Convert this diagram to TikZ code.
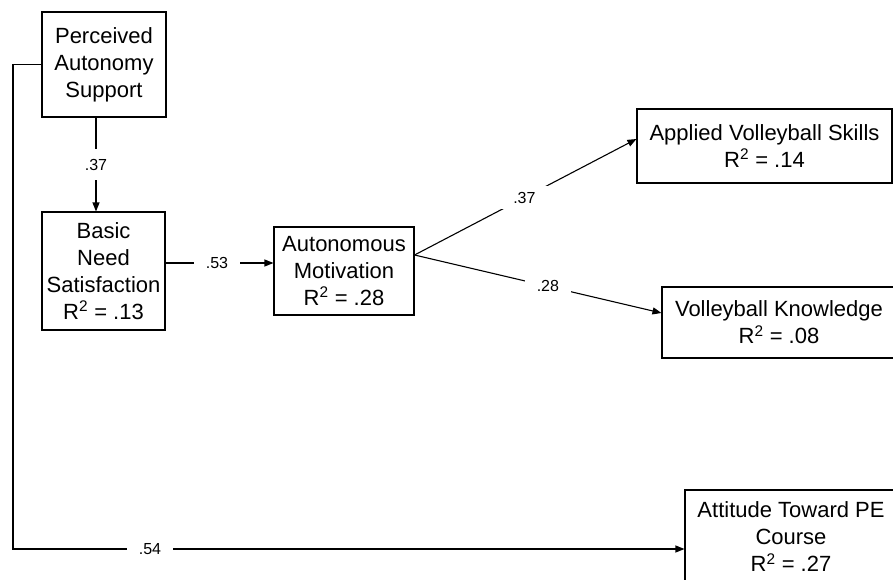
\documentclass[tikz,border=0pt]{standalone}
\usepackage{fontspec}
\setmainfont{Liberation Sans}
\usetikzlibrary{arrows.meta,calc}
\begin{document}
\begin{tikzpicture}[x=1pt,y=-1pt,
  box/.style={draw,line width=1.1pt,inner sep=0pt,align=center,font=\fontsize{22}{27}\selectfont},
  lab/.style={fill=white,inner xsep=12pt,inner ysep=6pt,font=\fontsize{16}{18}\selectfont},
  conn/.style={line width=1.1pt},
  arr/.style={conn,-{Triangle[length=9pt,width=7pt]}}]
\useasboundingbox (0,0) rectangle (893,580);
\clip (0,0) rectangle (893,580);
\node[box,minimum width=124pt,minimum height=105pt] (pas) at (104,64.5) {Perceived\\Autonomy\\Support};
\node[box,minimum width=123pt,minimum height=118pt] (bn) at (103.5,271) {Basic\\Need\\Satisfaction\\R\textsuperscript{2} = .13};
\node[box,minimum width=140pt,minimum height=88pt] (am) at (344,271) {Autonomous\\Motivation\\R\textsuperscript{2} = .28};
\node[box,minimum width=255pt,minimum height=74pt] (avs) at (764.5,146) {Applied Volleyball Skills\\R\textsuperscript{2} = .14};
\node[box,minimum width=234pt,minimum height=71pt] (vk) at (779,322.5) {Volleyball Knowledge\\R\textsuperscript{2} = .08};
\node[box,minimum width=212pt,minimum height=94pt] (att) at (791,537) {Attitude Toward PE\\Course\\R\textsuperscript{2} = .27};
\coordinate (vx) at (96,0);
\coordinate (hy) at (0,263);
\coordinate (corner) at (13,549);
\draw[arr] (pas.south -| vx) -- node[lab,inner ysep=10pt]{.37} (bn.north -| vx);
\draw[arr] (bn.east |- hy) -- node[lab,pos=.477]{.53} (am.west |- hy);
\draw[arr] ([yshift=16pt]am.east) -- node[lab,pos=.495]{.37} ([yshift=7pt]avs.west);
\draw[arr] ([yshift=16pt]am.east) -- node[lab,pos=.54]{.28} ([yshift=9.5pt]vk.west);
\draw[arr] (pas.west) -| (corner) -- node[lab,pos=.204]{.54} (att.west |- corner);
\end{tikzpicture}
\end{document}
